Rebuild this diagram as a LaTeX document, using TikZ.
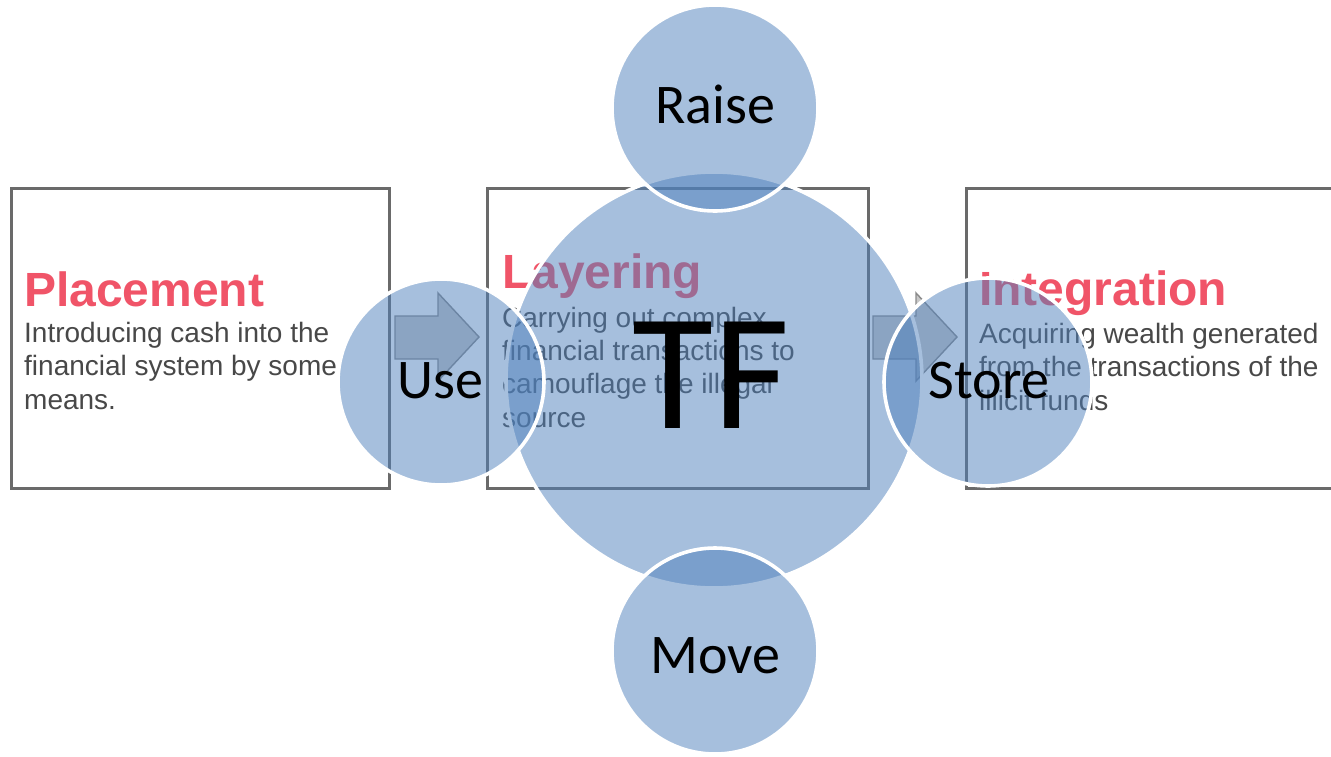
\documentclass[tikz,border=0pt]{standalone}
\usepackage{fontspec}
\setmainfont{Liberation Sans}
\newfontfamily\calib{Carlito}
\definecolor{boxline}{HTML}{6A6A6A}
\definecolor{headred}{HTML}{F05468}
\definecolor{bodygray}{HTML}{484848}
\definecolor{officeblue}{HTML}{4F81BD}
\definecolor{arrowfill}{HTML}{C8C8C8}
\definecolor{arrowline}{HTML}{8A8A8A}
\begin{document}
\begin{tikzpicture}[x=1pt,y=-1pt,
  stagebox/.style={draw=boxline, line width=2.6pt, fill=white, minimum width=#1, minimum height=300, anchor=north west, inner sep=0pt},
  headtxt/.style={anchor=base west, inner sep=0pt, text=headred, font=\fontsize{48}{50}\selectfont\bfseries},
  bodytxt/.style={anchor=base west, inner sep=0pt, text=bodygray, font=\fontsize{28}{33}\selectfont},
  blockarrow/.style={draw=arrowline, fill=arrowfill, line width=1.4pt, line join=miter},
  bubble/.style={circle, fill=officeblue, fill opacity=0.5, draw=white, draw opacity=1, line width=3.6pt, minimum size=#1, inner sep=0pt},
  bubtxt/.style={anchor=base, inner sep=0pt, text=black, font=\calib\fontsize{56}{60}\selectfont},
]
\clip (0,0) rectangle (1331,756);
\fill[white] (0,0) rectangle (1331,756);
% stage boxes
\node[stagebox=378] (b1) at (10,187) {};
\node[stagebox=381] (b2) at (486,187) {};
\node[stagebox=400] (b3) at (965,187) {};
% texts
\node[headtxt] (h1) at (24,306) {Placement};
\node[bodytxt] (t11) at (24,342) {Introducing cash into the};
\node[bodytxt] (t12) at (24,375.5) {financial system by some};
\node[bodytxt] (t13) at (24,409) {means.};
\node[headtxt] (h2) at (502,288) {Layering};
\node[bodytxt] (t21) at (502,327) {Carrying out complex};
\node[bodytxt] (t22) at (502,360.3) {financial transactions to};
\node[bodytxt] (t23) at (502,393.6) {camouflage the illegal};
\node[bodytxt] (t24) at (502,427) {source};
\node[headtxt] (h3) at (979,305) {Integration};
\node[bodytxt] (t31) at (979,343) {Acquiring wealth generated};
\node[bodytxt] (t32) at (979,376.5) {from the transactions of the};
\node[bodytxt] (t33) at (979,410) {illicit funds};
% block arrows
\draw[blockarrow] (395,316) -- (438,316) -- (438,293) -- (479,337) -- (438,381) -- (438,359) -- (395,359) -- cycle;
\draw[blockarrow] (873,316) -- (916,316) -- (916,293) -- (957,337) -- (916,381) -- (916,359) -- (873,359) -- cycle;
% circles
\node[bubble=416] (tf) at (714,380) {};
\node[bubble=206] (raise) at (715,108) {};
\node[bubble=206] (use) at (441,382) {};
\node[bubble=208] (store) at (988,382) {};
\node[bubble=206] (move) at (715,651) {};
% labels
\node[anchor=base, inner sep=0pt, font=\calib\fontsize{166}{170}\selectfont] (tftxt) at (711,428) {TF};
\node[bubtxt] (raisetxt) at (715,123) {Raise};
\node[bubtxt] (usetxt) at (440,398) {Use};
\node[bubtxt] (storetxt) at (989,398) {Store};
\node[bubtxt] (movetxt) at (715,673) {Move};
\end{tikzpicture}
\end{document}
